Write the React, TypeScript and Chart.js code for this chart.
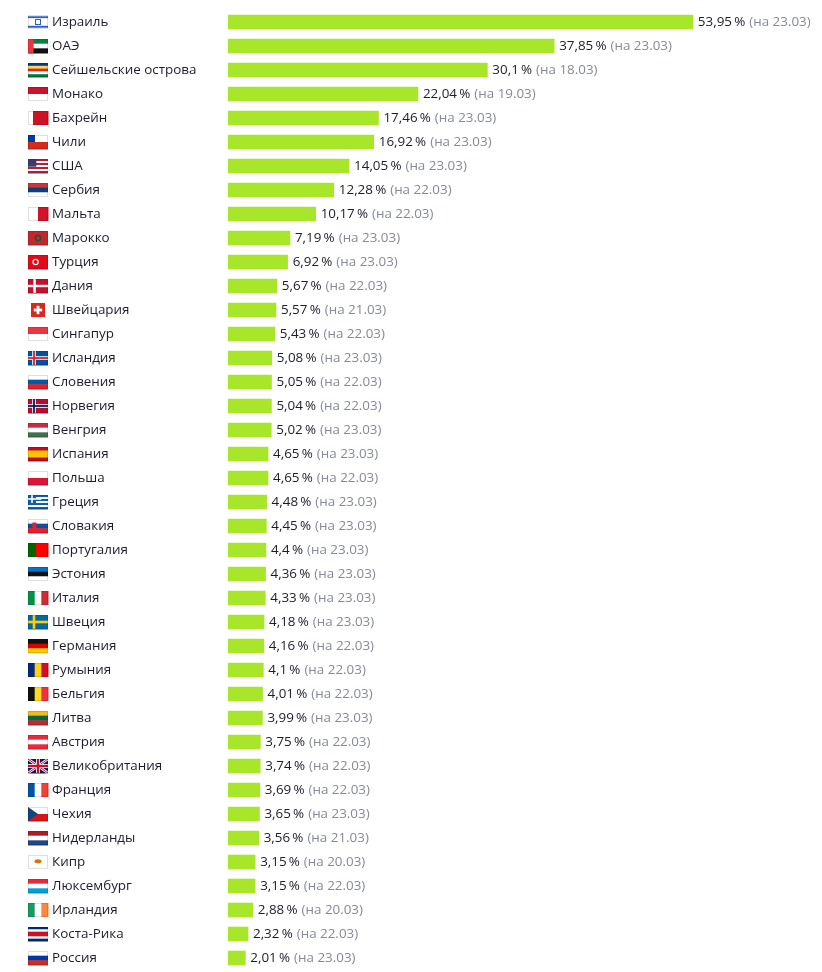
import React, { useRef, useEffect } from 'react';
import { Chart, registerables } from 'chart.js';

Chart.register(...registerables);

// values from the picture
const countries = [
  'Израиль', 'ОАЭ', 'Сейшельские острова', 'Монако', 'Бахрейн', 'Чили', 'США', 'Сербия',
  'Мальта', 'Марокко', 'Турция', 'Дания', 'Швейцария', 'Сингапур', 'Исландия', 'Словения',
  'Норвегия', 'Венгрия', 'Испания', 'Польша', 'Греция', 'Словакия', 'Португалия', 'Эстония',
  'Италия', 'Швеция', 'Германия', 'Румыния', 'Бельгия', 'Литва', 'Австрия', 'Великобритания',
  'Франция', 'Чехия', 'Нидерланды', 'Кипр', 'Люксембург', 'Ирландия', 'Коста-Рика', 'Россия',
];

const shares = [
  53.95, 37.85, 30.1, 22.04, 17.46, 16.92, 14.05, 12.28,
  10.17, 7.19, 6.92, 5.67, 5.57, 5.43, 5.08, 5.05,
  5.04, 5.02, 4.65, 4.65, 4.48, 4.45, 4.4, 4.36,
  4.33, 4.18, 4.16, 4.1, 4.01, 3.99, 3.75, 3.74,
  3.69, 3.65, 3.56, 3.15, 3.15, 2.88, 2.32, 2.01,
];

const dates = [
  '23.03', '23.03', '18.03', '19.03', '23.03', '23.03', '23.03', '22.03',
  '22.03', '23.03', '23.03', '22.03', '21.03', '22.03', '23.03', '22.03',
  '22.03', '23.03', '23.03', '22.03', '23.03', '23.03', '23.03', '23.03',
  '23.03', '23.03', '22.03', '22.03', '22.03', '23.03', '22.03', '22.03',
  '22.03', '23.03', '21.03', '20.03', '22.03', '20.03', '22.03', '23.03',
];

// simplified flags: stripe direction, colours (with optional weights), extras
type Flag = { d: 'h' | 'v'; c: string[]; w?: number[]; x?: string };
const flags: Flag[] = [
  { d: 'h', c: ['#fff', '#2f5fc4', '#fff', '#2f5fc4', '#fff'], w: [1, 1.5, 6, 1.5, 1], x: 'star' },
  { d: 'h', c: ['#00843d', '#fff', '#111'], x: 'uae' },
  { d: 'h', c: ['#003f87', '#fcd856', '#d62828', '#fff', '#007a3d'] },
  { d: 'h', c: ['#ce1126', '#fff'] },
  { d: 'v', c: ['#fff', '#ce1126'], w: [1, 3] },
  { d: 'h', c: ['#fff', '#d52b1e'], x: 'chile' },
  { d: 'h', c: ['#b22234', '#fff', '#b22234', '#fff', '#b22234', '#fff', '#b22234'], x: 'usa' },
  { d: 'h', c: ['#c6363c', '#0c4076', '#fff'] },
  { d: 'v', c: ['#fff', '#cf142b'] },
  { d: 'h', c: ['#c1272d'], x: 'morocco' },
  { d: 'h', c: ['#e30a17'], x: 'turkey' },
  { d: 'h', c: ['#c8102e'], x: 'cross-w' },
  { d: 'h', c: ['#da291c'], x: 'swiss' },
  { d: 'h', c: ['#ef3340', '#fff'] },
  { d: 'h', c: ['#02529c'], x: 'iceland' },
  { d: 'h', c: ['#fff', '#005da4', '#ed1c24'] },
  { d: 'h', c: ['#ba0c2f'], x: 'norway' },
  { d: 'h', c: ['#cd2a3e', '#fff', '#436f4d'] },
  { d: 'h', c: ['#c60b1e', '#ffc400', '#c60b1e'], w: [1, 2, 1] },
  { d: 'h', c: ['#fff', '#dc143c'] },
  { d: 'h', c: ['#0d5eaf', '#fff', '#0d5eaf', '#fff', '#0d5eaf', '#fff', '#0d5eaf'], x: 'greece' },
  { d: 'h', c: ['#fff', '#0b4ea2', '#ee1c25'], x: 'slovakia' },
  { d: 'v', c: ['#006600', '#ff0000'], w: [2, 3] },
  { d: 'h', c: ['#0072ce', '#111', '#fff'] },
  { d: 'v', c: ['#009246', '#fff', '#ce2b37'] },
  { d: 'h', c: ['#006aa7'], x: 'sweden' },
  { d: 'h', c: ['#111', '#dd0000', '#ffce00'] },
  { d: 'v', c: ['#002b7f', '#fcd116', '#ce1126'] },
  { d: 'v', c: ['#111', '#fdda24', '#ef3340'] },
  { d: 'h', c: ['#fdb913', '#006a44', '#c1272d'] },
  { d: 'h', c: ['#ed2939', '#fff', '#ed2939'] },
  { d: 'h', c: ['#012169'], x: 'uk' },
  { d: 'v', c: ['#0055a4', '#fff', '#ef4135'] },
  { d: 'h', c: ['#fff', '#d7141a'], x: 'czech' },
  { d: 'h', c: ['#ae1c28', '#fff', '#21468b'] },
  { d: 'h', c: ['#fff'], x: 'cyprus' },
  { d: 'h', c: ['#ed2939', '#fff', '#00a1de'] },
  { d: 'v', c: ['#169b62', '#fff', '#ff883e'] },
  { d: 'h', c: ['#002b7f', '#fff', '#ce1126', '#fff', '#002b7f'], w: [1, 1, 2, 1, 1] },
  { d: 'h', c: ['#fff', '#0039a6', '#d52b1e'] },
];

const BAR = '#a8e62a';
const TEXT = '#1c1c2b';
const GREY = '#858a96';
const FONT = '"Open Sans", "Noto Sans", sans-serif';

const fmt = (v: number) => String(v).replace('.', ',') + '\u2009%';

function drawCross(ctx: CanvasRenderingContext2D, x: number, y: number, w: number, h: number, col: string, t: number) {
  ctx.fillStyle = col;
  ctx.fillRect(x + w * 0.3 - t / 2, y, t, h);
  ctx.fillRect(x, y + h / 2 - t / 2, w, t);
}

function drawFlag(ctx: CanvasRenderingContext2D, f: Flag, x: number, y: number, w: number, h: number) {
  ctx.save();
  const wts = f.w || f.c.map(() => 1);
  const total = wts.reduce((a, b) => a + b, 0);
  if (f.x === 'swiss') {
    const s = h;
    const sx = x + (w - s) / 2;
    ctx.fillStyle = f.c[0];
    ctx.fillRect(sx, y, s, s);
    ctx.fillStyle = '#fff';
    ctx.fillRect(sx + s * 0.4, y + s * 0.2, s * 0.2, s * 0.6);
    ctx.fillRect(sx + s * 0.2, y + s * 0.4, s * 0.6, s * 0.2);
    ctx.restore();
    return;
  }
  let acc = 0;
  f.c.forEach((col, i) => {
    ctx.fillStyle = col;
    if (f.d === 'h') ctx.fillRect(x, y + (acc / total) * h, w, (wts[i] / total) * h + 0.5);
    else ctx.fillRect(x + (acc / total) * w, y, (wts[i] / total) * w + 0.5, h);
    acc += wts[i];
  });
  switch (f.x) {
    case 'star':
      ctx.strokeStyle = '#2f5fc4';
      ctx.lineWidth = 1;
      ctx.strokeRect(x + w / 2 - 2.5, y + h / 2 - 2.5, 5, 5);
      break;
    case 'uae':
      ctx.fillStyle = '#ef3340';
      ctx.fillRect(x, y, w * 0.28, h);
      break;
    case 'chile':
      ctx.fillStyle = '#0039a6';
      ctx.fillRect(x, y, w * 0.35, h / 2);
      break;
    case 'usa':
      ctx.fillStyle = '#3c3b6e';
      ctx.fillRect(x, y, w * 0.42, h * 0.55);
      break;
    case 'greece':
      ctx.fillStyle = '#0d5eaf';
      ctx.fillRect(x, y, w * 0.4, h * 0.57);
      drawCross(ctx, x, y, w * 0.4 / 0.6, h * 0.57, '#fff', 1.6);
      break;
    case 'slovakia':
      ctx.fillStyle = '#ee1c25';
      ctx.fillRect(x + w * 0.22, y + h * 0.25, w * 0.2, h * 0.5);
      break;
    case 'morocco':
    case 'turkey':
      ctx.strokeStyle = f.x === 'morocco' ? '#006233' : '#fff';
      ctx.lineWidth = 1.2;
      ctx.beginPath();
      ctx.arc(x + w * (f.x === 'morocco' ? 0.5 : 0.38), y + h / 2, 2.6, 0, Math.PI * 2);
      ctx.stroke();
      break;
    case 'cross-w':
      drawCross(ctx, x, y, w * 1.1, h, '#fff', 2.4);
      break;
    case 'iceland':
      drawCross(ctx, x, y, w, h, '#fff', 3.6);
      drawCross(ctx, x, y, w, h, '#dc1e35', 1.8);
      break;
    case 'norway':
      drawCross(ctx, x, y, w, h, '#fff', 3.6);
      drawCross(ctx, x, y, w, h, '#00205b', 1.8);
      break;
    case 'sweden':
      drawCross(ctx, x, y, w, h, '#fecc02', 2.6);
      break;
    case 'uk':
      ctx.strokeStyle = '#fff';
      ctx.lineWidth = 2.6;
      ctx.beginPath();
      ctx.moveTo(x, y); ctx.lineTo(x + w, y + h);
      ctx.moveTo(x + w, y); ctx.lineTo(x, y + h);
      ctx.stroke();
      ctx.strokeStyle = '#c8102e';
      ctx.lineWidth = 1;
      ctx.stroke();
      ctx.fillStyle = '#fff';
      ctx.fillRect(x + w / 2 - 2, y, 4, h);
      ctx.fillRect(x, y + h / 2 - 2, w, 4);
      ctx.fillStyle = '#c8102e';
      ctx.fillRect(x + w / 2 - 1.2, y, 2.4, h);
      ctx.fillRect(x, y + h / 2 - 1.2, w, 2.4);
      break;
    case 'czech':
      ctx.fillStyle = '#11457e';
      ctx.beginPath();
      ctx.moveTo(x, y); ctx.lineTo(x + w * 0.5, y + h / 2); ctx.lineTo(x, y + h);
      ctx.closePath();
      ctx.fill();
      break;
    case 'cyprus':
      ctx.fillStyle = '#d57800';
      ctx.beginPath();
      ctx.ellipse(x + w / 2, y + h * 0.45, 3.5, 2, 0, 0, Math.PI * 2);
      ctx.fill();
      break;
  }
  ctx.strokeStyle = 'rgba(0,0,0,0.12)';
  ctx.lineWidth = 1;
  ctx.strokeRect(x + 0.5, y + 0.5, w - 1, h - 1);
  ctx.restore();
}

const labelsPlugin = {
  id: 'rowLabels',
  afterDatasetsDraw(chart: any) {
    const ctx: CanvasRenderingContext2D = chart.ctx;
    const yScale = chart.scales.y;
    const meta = chart.getDatasetMeta(0);
    ctx.save();
    ctx.font = `13.4px ${FONT}`;
    ctx.textBaseline = 'middle';
    countries.forEach((name, i) => {
      const y = yScale.getPixelForValue(i);
      drawFlag(ctx, flags[i], 28, Math.round(y) - 7, 20, 14);
      ctx.fillStyle = TEXT;
      ctx.textAlign = 'left';
      ctx.fillText(name, 52, y);
      const bar = meta.data[i];
      const vx = bar.x + 5;
      const vt = fmt(shares[i]);
      ctx.fillStyle = TEXT;
      ctx.fillText(vt, vx, y);
      const vw = ctx.measureText(vt).width;
      ctx.fillStyle = GREY;
      ctx.fillText(`(на ${dates[i]})`, vx + vw + 4, y);
    });
    ctx.restore();
  },
};

const App: React.FC = () => {
  const chartRef = useRef<HTMLCanvasElement | null>(null);
  const chartInstanceRef = useRef<Chart | null>(null);

  useEffect(() => {
    if (!chartRef.current) return;
    if (chartInstanceRef.current) {
      chartInstanceRef.current.destroy();
      chartInstanceRef.current = null;
    }
    const chart = new Chart(chartRef.current, {
      type: 'bar',
      data: {
        labels: countries,
        datasets: [{
          data: shares,
          backgroundColor: BAR,
          borderWidth: 0,
          barThickness: 14,
        }],
      },
      options: {
        indexAxis: 'y',
        responsive: false,
        animation: false,
        devicePixelRatio: 1,
        layout: { padding: { left: 228, right: 77, top: 10, bottom: 2 } },
        scales: {
          x: { display: false, min: 0, max: 60 },
          y: { display: false },
        },
        plugins: {
          legend: { display: false },
          tooltip: { enabled: false },
        },
      },
      plugins: [labelsPlugin],
    });
    chartInstanceRef.current = chart;
    return () => {
      if (chartInstanceRef.current !== null) {
        chartInstanceRef.current.destroy();
        chartInstanceRef.current = null;
      }
    };
  }, []);

  return (
    <div style={{ position: 'absolute', left: 0, top: 0, width: 822, height: 972, background: '#fff' }}>
      <canvas ref={chartRef} width="822" height="972"></canvas>
    </div>
  );
};

export default App;
